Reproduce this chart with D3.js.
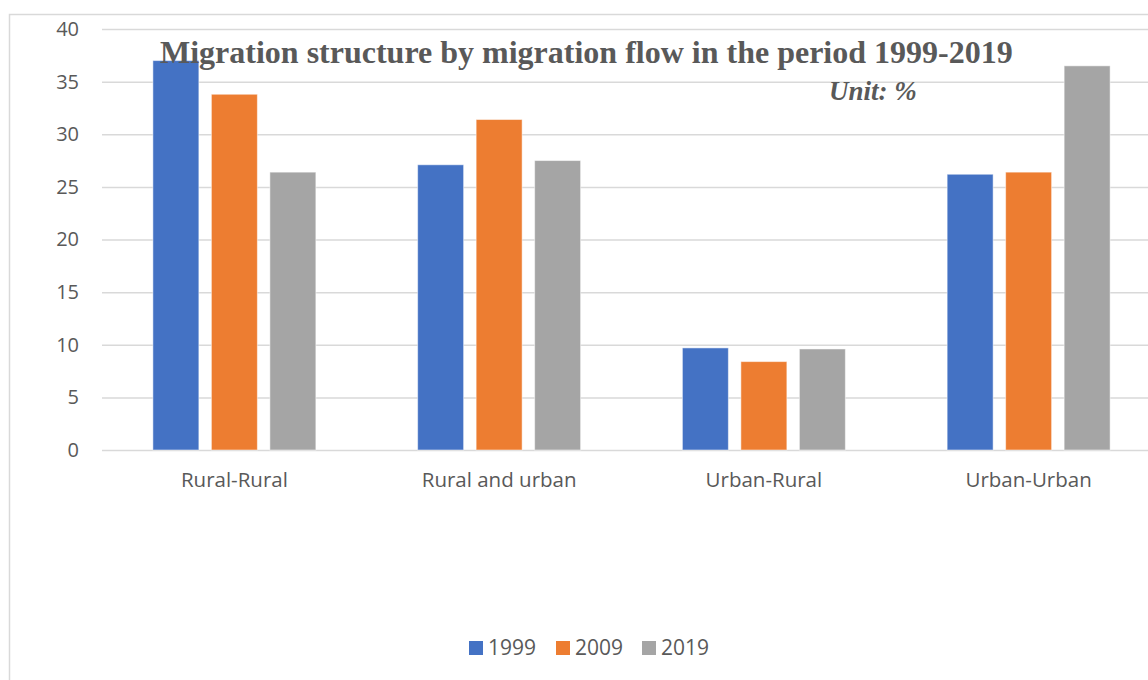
<!DOCTYPE html>
<html>
<head>
<meta charset="utf-8">
<script src="https://cdn.jsdelivr.net/npm/d3@7"></script>
<style>
  body { margin: 0; background: #ffffff; }
  svg { display: block; }
</style>
</head>
<body>
<svg id="chart" width="1148" height="680"></svg>
<script>
var categories = ["Rural-Rural", "Rural and urban", "Urban-Rural", "Urban-Urban"];
var years = ["1999", "2009", "2019"];
var values1999 = [37.0, 27.1, 9.7, 26.2];
var values2009 = [33.8, 31.4, 8.4, 26.4];
var values2019 = [26.4, 27.5, 9.6, 36.5];
var yTicks = [0, 5, 10, 15, 20, 25, 30, 35, 40];
var colors = ["#4472c4", "#ed7d31", "#a5a5a5"];

var svg = d3.select('#chart');
var textColor = "#595959";
var gridColor = "#d9d9d9";
var sans = "'Open Sans', sans-serif";
var serif = "'Liberation Serif', 'Times New Roman', serif";

var series = [values1999, values2009, values2019];
var rows = [];
categories.forEach(function(c, i) {
  years.forEach(function(y, j) {
    rows.push({cat: c, year: y, value: series[j][i], k: j});
  });
});

// chart frame
svg.append("rect")
  .attr("x", 9.5)
  .attr("y", 14.5)
  .attr("width", 1160)
  .attr("height", 700)
  .attr("fill", "none")
  .attr("stroke", gridColor)
  .attr("stroke-width", 1.5);

var x = d3.scaleBand()
  .domain(categories)
  .range([102, 1161]);

var xInner = d3.scaleBand()
  .domain(years)
  .range([0, x.bandwidth()])
  .paddingInner(0.214)
  .paddingOuter(0.87);

var y = d3.scaleLinear()
  .domain([0, 40])
  .range([450, 29]);

// gridlines + y labels
var yAxis = svg.append("g")
  .attr("transform", "translate(102,0)")
  .call(d3.axisLeft(y)
    .tickValues(yTicks)
    .tickSize(-1060)
    .tickPadding(23))
  .call(g => g.select(".domain").remove());
yAxis.selectAll(".tick line")
  .attr("stroke", gridColor)
  .attr("stroke-width", 1.5);
yAxis.selectAll(".tick text")
  .attr("fill", textColor)
  .attr("font-family", sans)
  .attr("font-size", "20px");

// bars
svg.append("g").selectAll("rect")
  .data(rows)
  .enter().append("rect")
  .attr("x", function(d) { return x(d.cat) + xInner(d.year); })
  .attr("y", function(d) { return y(d.value); })
  .attr("width", xInner.bandwidth())
  .attr("height", function(d) { return y(0) - y(d.value); })
  .attr("fill", function(d) { return colors[d.k]; })
  .attr("stroke", "#ffffff")
  .attr("stroke-opacity", 0.5)
  .attr("stroke-width", 1);

// category labels
svg.append("g").selectAll("text")
  .data(categories)
  .enter().append("text")
  .attr("x", function(d) { return x(d) + x.bandwidth() / 2; })
  .attr("y", 487)
  .attr("text-anchor", "middle")
  .attr("fill", textColor)
  .attr("font-family", sans)
  .attr("font-size", "20.5px")
  .text(function(d) { return d; });

// title
svg.append("text")
  .attr("x", 160)
  .attr("y", 63)
  .attr("fill", textColor)
  .attr("font-family", serif)
  .attr("font-weight", "bold")
  .attr("font-size", "32px")
  .text("Migration structure by migration flow in the period 1999-2019");

svg.append("text")
  .attr("x", 829)
  .attr("y", 100)
  .attr("fill", textColor)
  .attr("font-family", serif)
  .attr("font-weight", "bold")
  .attr("font-style", "italic")
  .attr("font-size", "27px")
  .text("Unit: %");

// legend
var legendX = [469, 556, 642];
var legend = svg.append("g").selectAll("g")
  .data(years)
  .enter().append("g")
  .attr("transform", function(d, i) { return "translate(" + legendX[i] + ",641)"; });
legend.append("rect")
  .attr("width", 14)
  .attr("height", 14)
  .attr("fill", function(d, i) { return colors[i]; });
legend.append("text")
  .attr("x", 19)
  .attr("y", 14)
  .attr("fill", textColor)
  .attr("font-family", sans)
  .attr("font-size", "21px")
  .text(function(d) { return d; });
</script>
</body>
</html>
